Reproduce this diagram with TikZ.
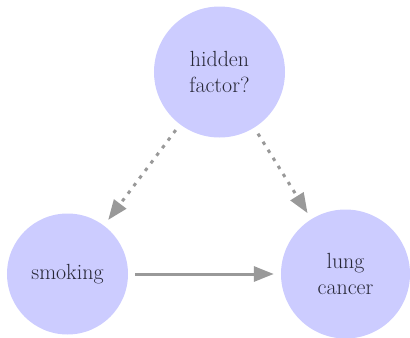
\documentclass[tikz,border=0pt]{standalone}
\usetikzlibrary{arrows.meta}
\definecolor{nodeblue}{RGB}{204,204,255}
\definecolor{edgegray}{RGB}{153,153,153}
\definecolor{labelgray}{RGB}{40,40,56}
\begin{document}
\begin{tikzpicture}[x=1bp,y=-1bp]
    \useasboundingbox (0,0) rectangle (410,338);
    \begin{scope}[every node/.append style = {circle, fill = nodeblue, text = labelgray,
            align = center, inner sep = 0pt, font = \fontsize{22}{27}\selectfont}]
        \node[minimum size = 131bp] (hidden) at (219.5,72) {hidden\\factor?};
        \node[minimum size = 121bp] (smoking) at (67.5,274) {smoking};
        \node[minimum size = 129bp] (cancer) at (345.5,274) {lung\\cancer};
    \end{scope}
    \begin{scope}[style = {draw = edgegray, line width = 3bp, shorten <= 7bp, shorten >= 7bp,
            -{Triangle[length = 20bp, width = 15bp]}}]
        \draw[dash pattern = on 3.5bp off 6bp] (hidden) -- (smoking);
        \draw[dash pattern = on 3.5bp off 6bp] (hidden) -- (cancer);
        \draw (smoking) -- (cancer);
    \end{scope}
\end{tikzpicture}
\end{document}
